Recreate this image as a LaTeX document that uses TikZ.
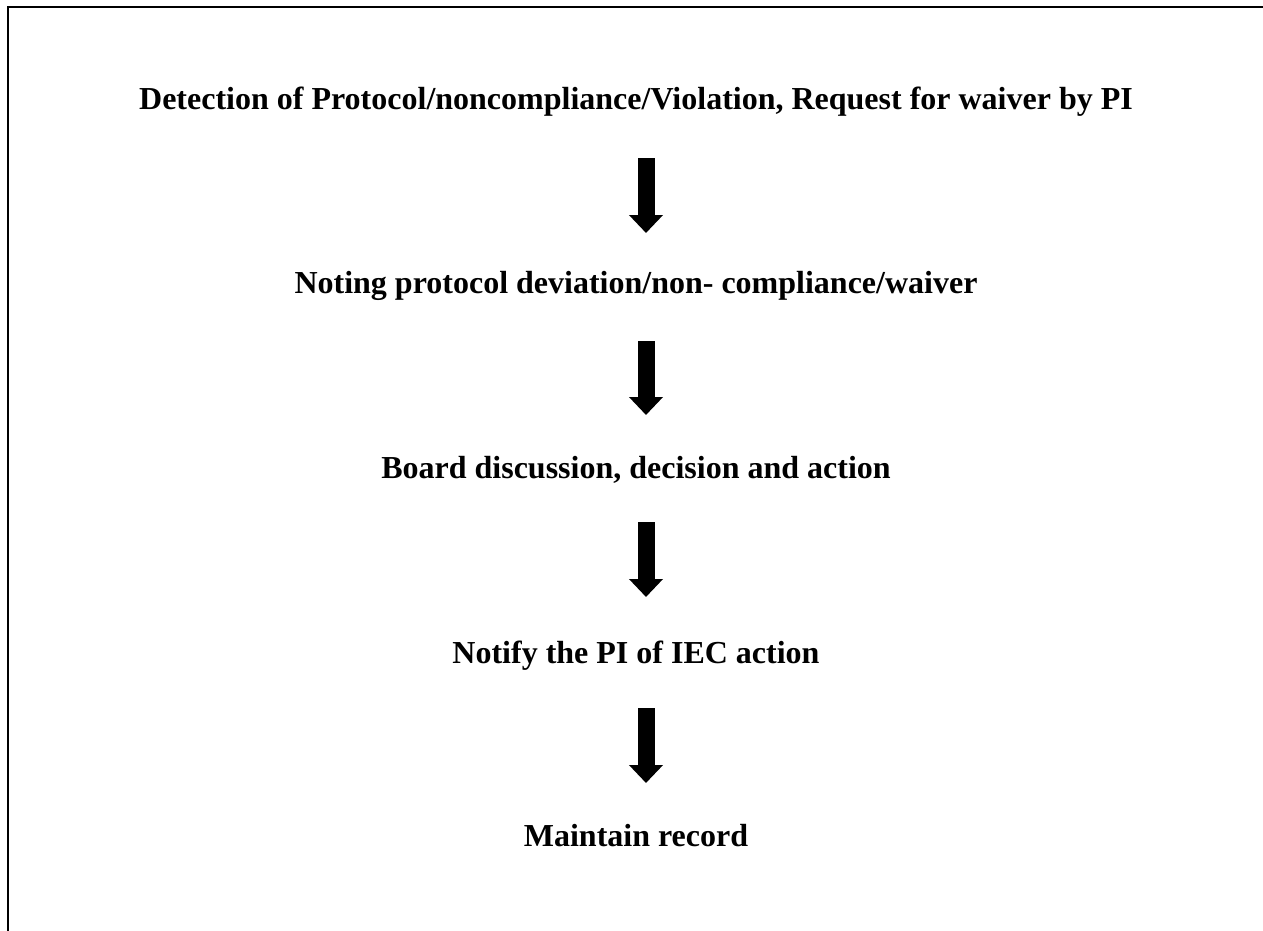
\documentclass[tikz,border=0pt]{standalone}
\usepackage{fontspec}
\setmainfont{Liberation Serif}
\usetikzlibrary{arrows.meta}
\begin{document}
\begin{tikzpicture}[x=1pt,y=-1pt,
  lbl/.style={font=\fontsize{32}{38}\selectfont\bfseries, inner sep=0pt, anchor=base},
  blockarrow/.style={line width=17pt, -{Triangle[width=33pt,length=18pt]}}]
\useasboundingbox (0,0) rectangle (1263,931);
\draw[line width=2.8pt] (8,931) -- (8,7) -- (1263,7);
\node[lbl] (t1) at (636,110) {Detection of Protocol/noncompliance/Violation, Request for waiver by PI};
\node[lbl] (t2) at (636,293) {Noting protocol deviation/non- compliance/waiver};
\node[lbl] (t3) at (636,478) {Board discussion, decision and action};
\node[lbl] (t4) at (636,663) {Notify the PI of IEC action};
\node[lbl] (t5) at (636,846) {Maintain record};
\coordinate (a1s) at (646,158); \coordinate (a1e) at (646,233);
\coordinate (a2s) at (646,341); \coordinate (a2e) at (646,415);
\coordinate (a3s) at (646,522); \coordinate (a3e) at (646,597);
\coordinate (a4s) at (646,708); \coordinate (a4e) at (646,783);
\draw[blockarrow] (a1s) -- (a1e);
\draw[blockarrow] (a2s) -- (a2e);
\draw[blockarrow] (a3s) -- (a3e);
\draw[blockarrow] (a4s) -- (a4e);
\end{tikzpicture}
\end{document}
